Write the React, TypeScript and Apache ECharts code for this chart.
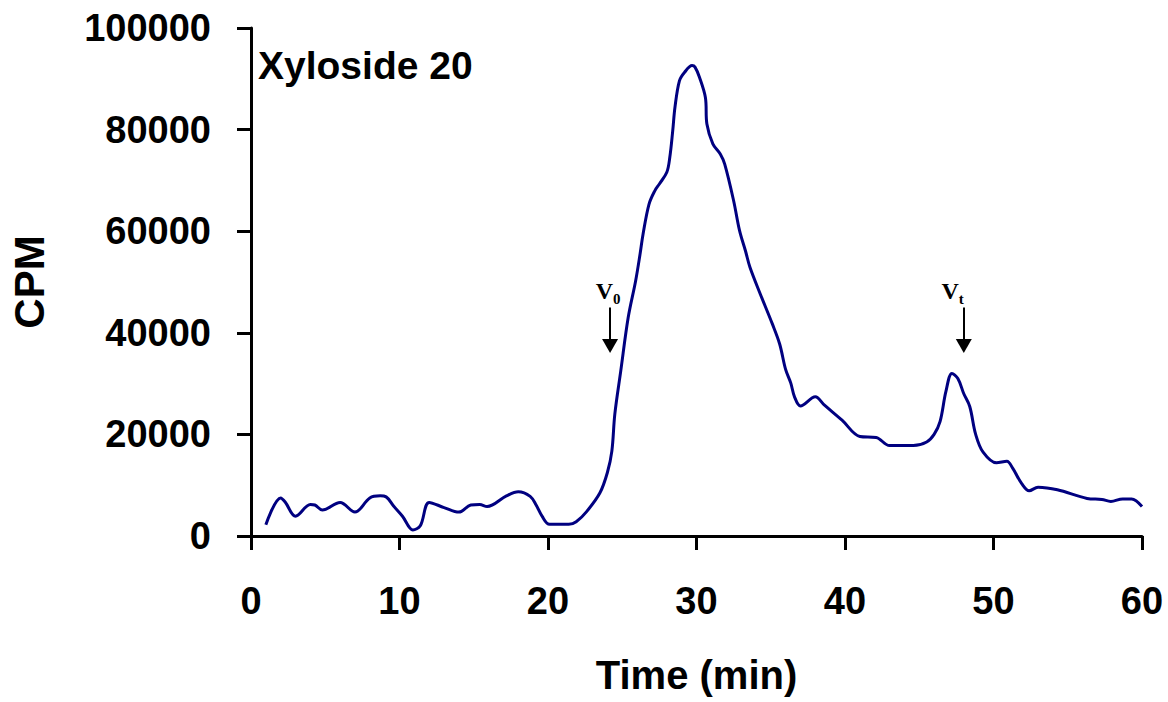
import React, { useEffect, useRef } from "react";
import * as echarts from "echarts";

// Elution profile: time (min) vs counts per minute
const timeMin = [
  1.0, 2.0, 2.3, 3.0, 4.0, 4.3, 4.8, 6.0, 7.0, 8.0, 8.7, 9.1, 9.6, 10.2, 10.9, 11.4,
  12.0, 13.0, 14.0, 14.8, 15.4, 15.9, 17.2, 18.0, 18.8, 19.2, 19.6, 20.1, 21.4, 21.9,
  22.6, 23.5, 24.0, 24.3, 24.5, 24.9, 25.4, 25.9, 26.2, 26.4, 26.8, 27.2, 27.5, 28.0,
  28.2, 28.4, 28.55, 28.85, 29.2, 29.7, 29.9, 30.2, 30.6, 30.7, 31.1, 31.6, 31.9, 32.5,
  32.9, 33.3, 33.6, 34.3, 35.1, 35.6, 36.0, 36.35, 36.6, 37.0, 38.0, 38.6, 39.8, 41.0,
  42.1, 43.0, 44.6, 45.5, 46.0, 46.4, 46.8, 47.2, 47.6, 48.0, 48.4, 48.8, 49.3, 50.2,
  50.9, 51.3, 51.9, 52.4, 53.0, 54.3, 56.3, 57.3, 57.9, 58.7, 59.3, 60.0,
];
const cpm = [
  2200, 7500, 6700, 3900, 6200, 6100, 5100, 6600, 4700, 7500, 7900, 7700, 5900, 3900, 1200, 2000,
  6600, 5600, 4700, 6100, 6200, 5800, 7900, 8700, 7800, 6100, 3900, 2300, 2300, 2800,
  4800, 8500, 12500, 16700, 24000, 32500, 43000, 50200, 55500, 59400, 65300, 68000, 69300, 71600,
  74500, 79800, 84400, 89600, 91300, 92600, 92300, 90300, 86300, 81100, 77200, 75200, 73200, 66000,
  60100, 56100, 52900, 47600, 41800, 37800, 32800, 30100, 27400, 25600, 27400, 25800, 22800, 19600,
  19400, 17800, 17800, 18500, 20000, 22500, 28500, 32000, 31000, 28000, 25500, 20000, 16500, 14400,
  14700, 13300, 10300, 8900, 9600, 9100, 7400, 7200, 6800, 7300, 7300, 5800,
];

// Void volume (V0) and total volume (Vt) markers
const markerNames = ["0", "t"];
const markerTimes = [24.18, 48.0];
const arrowTop = 45000;
const arrowHeadCenter = 37400;

const titleText = "Xyloside 20";
const xName = "Time (min)";
const yName = "CPM";

const SANS = "'Liberation Sans', Arial, sans-serif";
const SERIF = "'Liberation Serif', 'Times New Roman', serif";

export default function App() {
  const ref = useRef<HTMLDivElement>(null);

  useEffect(() => {
    if (!ref.current) return;
    const chart = echarts.init(ref.current, null, { renderer: "svg" });
    const data = timeMin.map((t, i) => [t, cpm[i]]);

    chart.setOption({
      animation: false,
      backgroundColor: "#ffffff",
      grid: { left: 251, right: 26, top: 28, bottom: 166, outerBoundsMode: "none" },
      xAxis: {
        type: "value",
        min: 0,
        max: 60,
        interval: 10,
        name: xName,
        nameLocation: "middle",
        nameGap: 139,
        nameTextStyle: {
          fontFamily: SANS,
          fontWeight: "bold",
          fontSize: 40,
          color: "#000",
          verticalAlign: "middle",
        },
        axisLine: { onZero: false, lineStyle: { color: "#000", width: 3 } },
        axisTick: { show: true, length: 14, inside: false, lineStyle: { color: "#000", width: 3 } },
        axisLabel: {
          margin: 46,
          fontFamily: SANS,
          fontWeight: "bold",
          fontSize: 38,
          color: "#000",
          formatter: (v: number) => String(v),
        },
        splitLine: { show: false },
      },
      yAxis: {
        type: "value",
        min: 0,
        max: 100000,
        interval: 20000,
        name: yName,
        nameLocation: "middle",
        nameGap: 222,
        nameRotate: 90,
        nameTextStyle: {
          fontFamily: SANS,
          fontWeight: "bold",
          fontSize: 42,
          color: "#000",
          verticalAlign: "middle",
        },
        axisLine: { show: true, lineStyle: { color: "#000", width: 3 } },
        axisTick: { show: true, length: 14, inside: false, lineStyle: { color: "#000", width: 3 } },
        axisLabel: {
          margin: 40,
          fontFamily: SANS,
          fontWeight: "bold",
          fontSize: 38,
          color: "#000",
          formatter: (v: number) => String(v),
        },
        splitLine: { show: false },
      },
      series: [
        {
          type: "line",
          data,
          smooth: 0.35,
          showSymbol: false,
          symbol: "none",
          lineStyle: { color: "#000080", width: 3 },
          markLine: {
            silent: true,
            symbol: ["none", "triangle"],
            symbolSize: [16, 14],
            label: { show: false },
            lineStyle: { color: "#000", width: 2, type: "solid" },
            data: markerTimes.map((t) => [
              { coord: [t, arrowTop] },
              { coord: [t, arrowHeadCenter] },
            ]),
          },
        },
      ],
    });

    // Labels above the arrows, placed from the axis scale
    const graphics: any[] = [
      {
        type: "text",
        left: 258,
        top: 46,
        style: {
          text: titleText,
          font: `bold 39px ${SANS}`,
          fill: "#000",
        },
      },
    ];
    markerTimes.forEach((t, i) => {
      const p = chart.convertToPixel({ gridIndex: 0 }, [t, arrowTop]) as number[];
      const vRight = i === 0 ? p[0] + 3 : p[0] - 5;
      graphics.push({
        type: "text",
        x: vRight,
        y: p[1] - 16,
        style: {
          text: "V",
          font: `bold 24px ${SERIF}`,
          fill: "#000",
          align: "right",
          verticalAlign: "middle",
        },
      });
      graphics.push({
        type: "text",
        x: vRight,
        y: p[1] - 8,
        style: {
          text: markerNames[i],
          font: `bold 15px ${SERIF}`,
          fill: "#000",
          align: "left",
          verticalAlign: "middle",
        },
      });
    });
    chart.setOption({ graphic: graphics });

    return () => chart.dispose();
  }, []);

  return (
    <div
      ref={ref}
      style={{ position: "fixed", left: 0, top: 0, width: 1168, height: 702 }}
    />
  );
}
